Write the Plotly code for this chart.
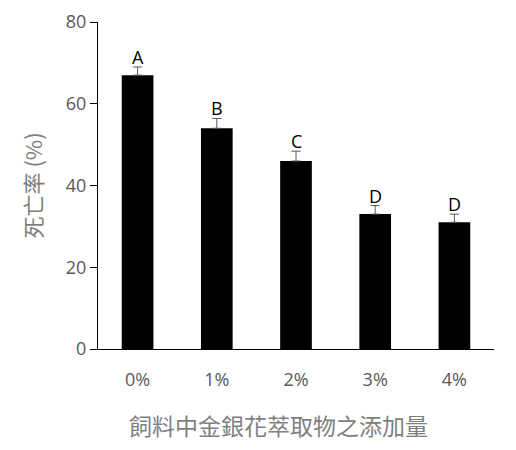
import plotly.graph_objects as go

# 資料
categories = ["0%", "1%", "2%", "3%", "4%"]
mortality = [67, 54, 46, 33, 31]
errors = [2.0, 2.4, 2.4, 2.1, 2.0]
letters = ["A", "B", "C", "D", "D"]

fig = go.Figure()

fig.add_trace(go.Bar(
    x=categories, y=mortality, width=0.4,
    marker=dict(color="black", line=dict(width=0)),
    error_y=dict(type="data", symmetric=False, array=errors,
                 arrayminus=[0] * len(errors),
                 color="#595959", thickness=1, width=4.5),
    showlegend=False,
))

# 字母標記
for c, v, e, t in zip(categories, mortality, errors, letters):
    fig.add_annotation(x=c, y=v + e, text=t, showarrow=False,
                       yanchor="bottom", yshift=-4,
                       font=dict(family="Open Sans, Noto Sans", size=18, color="black"))

# 軸標題
fig.add_annotation(text="飼料中金銀花萃取物之添加量", xref="paper", yref="paper",
                   x=0.456, y=0, yanchor="middle", yshift=-76, showarrow=False,
                   font=dict(family="Noto Sans CJK TC", size=23, color="#7f7f7f"))
fig.add_annotation(text="死亡率 (%)", xref="paper", yref="paper", textangle=-90,
                   x=0, y=0.5, xanchor="center", xshift=-67, showarrow=False,
                   font=dict(family="Noto Sans CJK TC", size=22, color="#7f7f7f"))

fig.update_layout(
    width=516, height=450,
    margin=dict(l=90, r=30, t=14, b=109),
    plot_bgcolor="white", paper_bgcolor="white",
    xaxis=dict(
        showline=True, linecolor="black", linewidth=1, automargin=False,
        ticks="outside", ticklen=14, tickcolor="rgba(0,0,0,0)",
        tickfont=dict(family="Open Sans, Noto Sans", size=18, color="#595959"),
        range=[-0.5, 4.5],
    ),
    yaxis=dict(
        range=[0, 80], dtick=20, automargin=False,
        showline=True, linecolor="black", linewidth=1,
        ticks="outside", ticklen=7, tickcolor="black",
        showgrid=False, zeroline=False,
        tickfont=dict(family="Open Sans, Noto Sans", size=18, color="#595959"),
    ),
)

fig.write_html("out.html")
